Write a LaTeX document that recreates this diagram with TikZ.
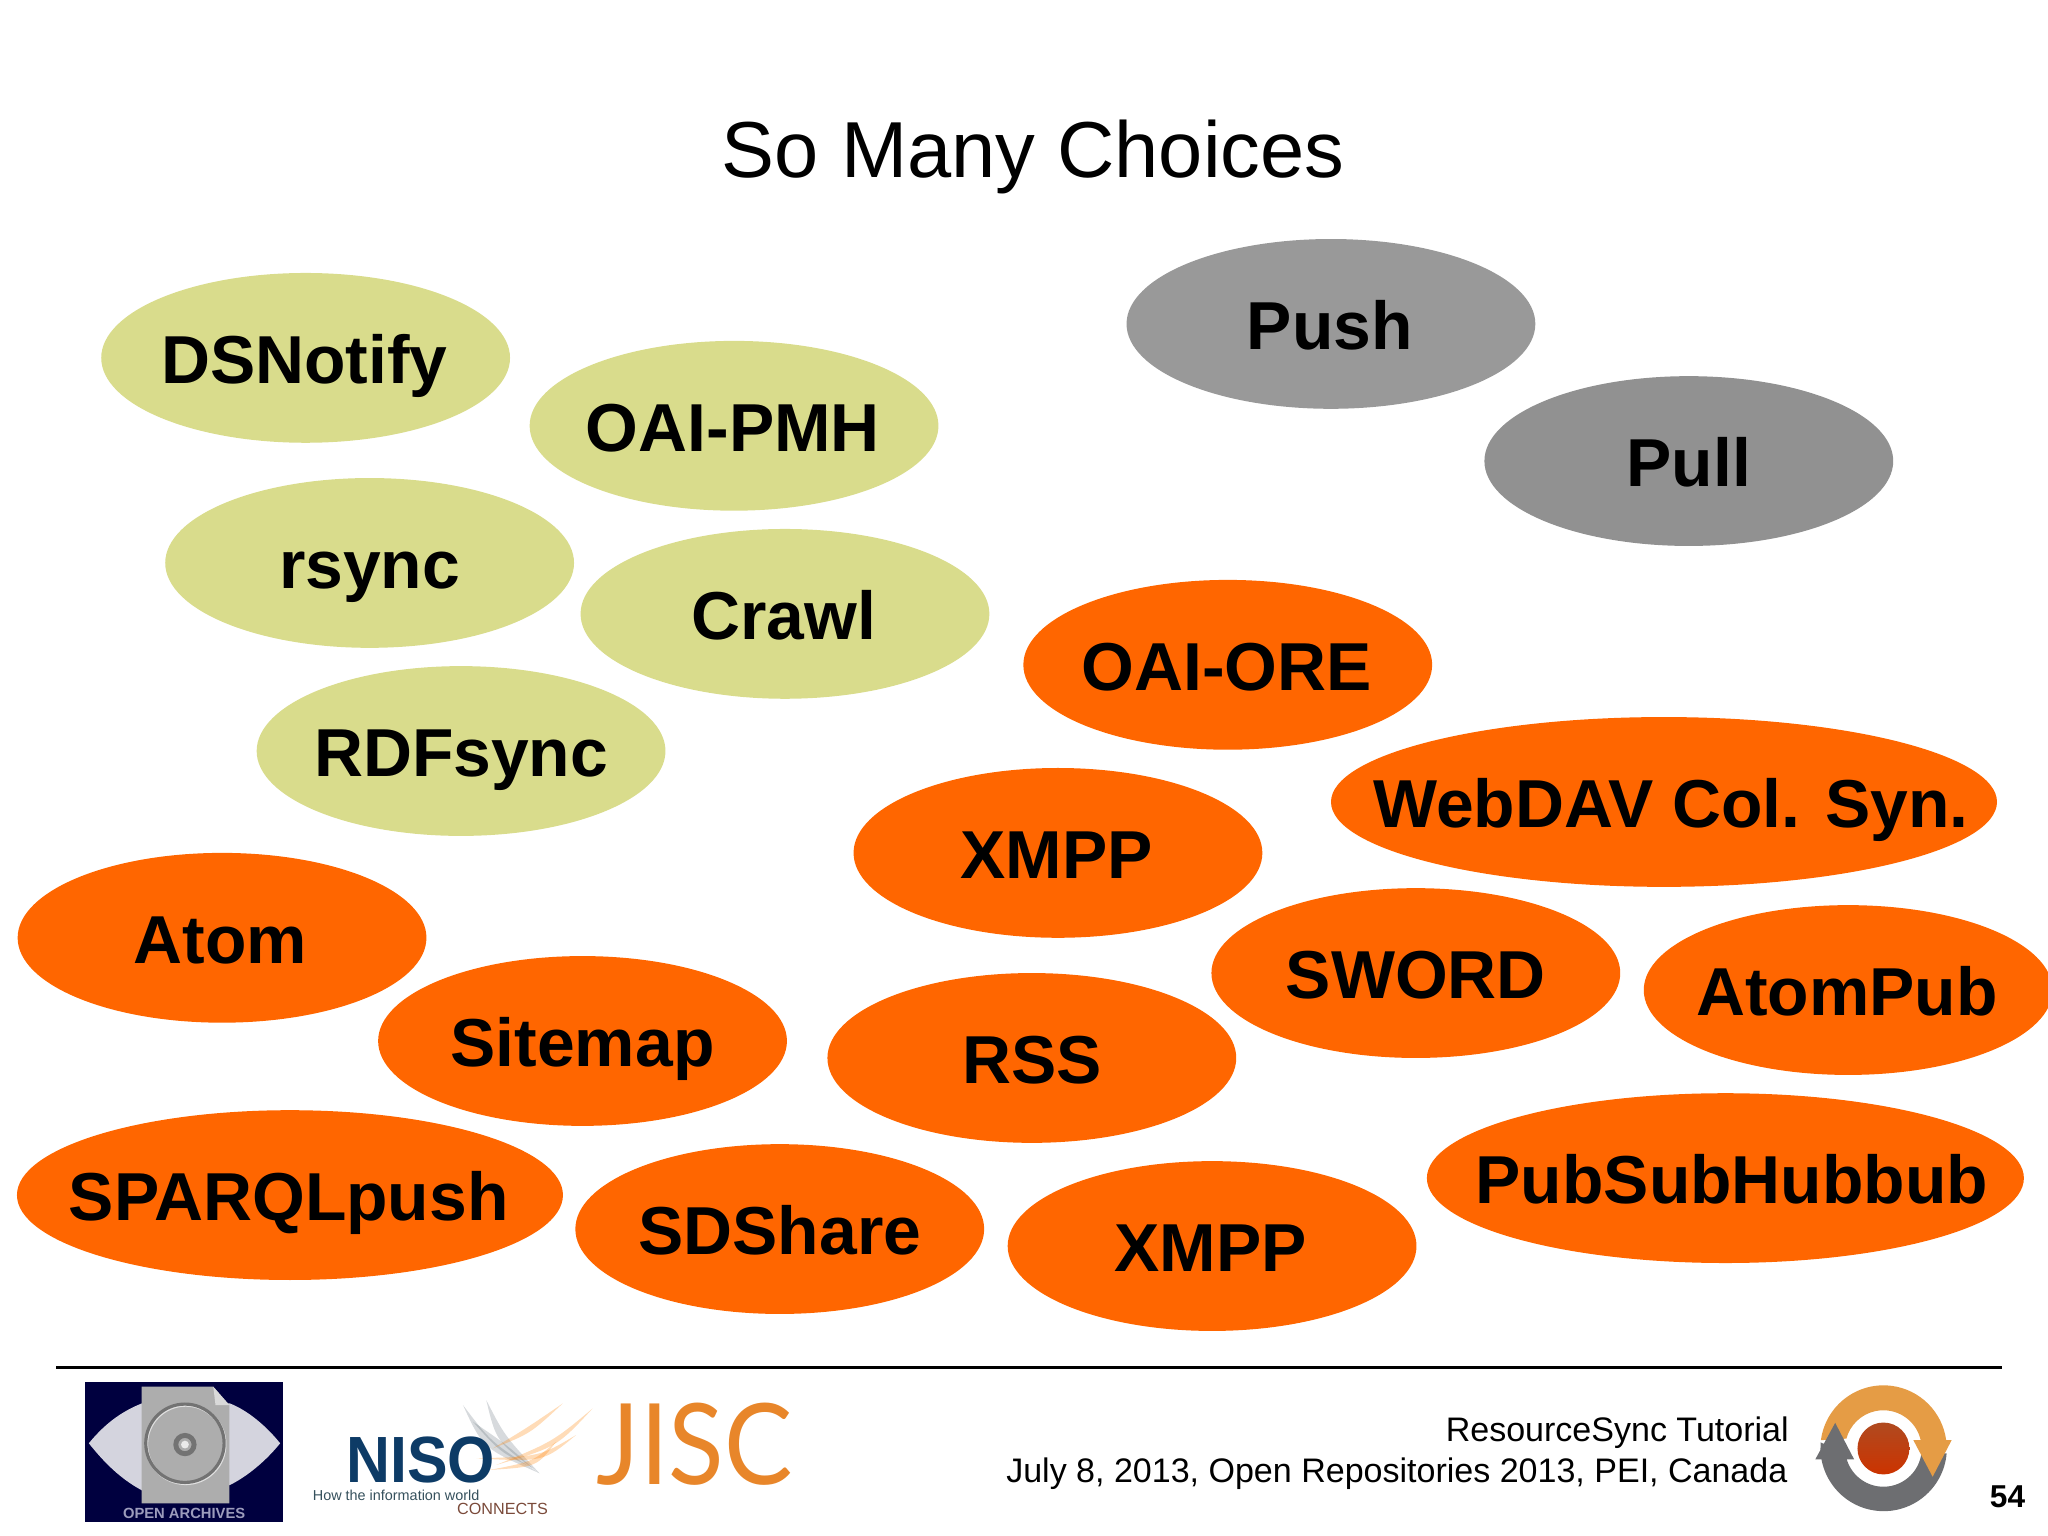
\documentclass[tikz,border=0pt]{standalone}
\usepackage{fontspec}
\setmainfont{Liberation Sans}
\newfontfamily\jiscfont{Lato}
\usetikzlibrary{shapes.geometric}
\definecolor{sync}{HTML}{D9DC8C}
\definecolor{proto}{HTML}{FF6600}
\definecolor{mode}{HTML}{999999}
\definecolor{navy}{HTML}{00003F}
\definecolor{nisoblue}{HTML}{0D3B66}
\definecolor{nisotext}{HTML}{35505C}
\definecolor{connects}{HTML}{7A4A3A}
\definecolor{jisc}{HTML}{E8862A}
\definecolor{ringorange}{HTML}{E59C45}
\definecolor{ringgray}{HTML}{6D6E71}
\definecolor{ringtop}{HTML}{B04A20}
\definecolor{ringbot}{HTML}{CC3300}
\definecolor{eyegray}{HTML}{D4D4DE}
\definecolor{docgray}{HTML}{ADADAD}
\definecolor{oatext}{HTML}{9C9CBC}
\newcommand{\lbl}[2][0pt]{\makebox[0pt]{\hspace*{#1}\raisebox{-7.3pt}[0pt][0pt]{#2}}}
\tikzset{
  choice/.style={ellipse,inner sep=0pt,outer sep=0pt,minimum width=4.088cm,minimum height=1.698cm,
    font=\fontsize{19.3}{22}\selectfont\bfseries},
  tool/.style={choice,fill=sync},
  proto/.style={choice,fill=proto},
  mode/.style={choice,fill=mode},
  foot/.style={font=\fontsize{9.68}{12}\selectfont,anchor=east,inner sep=0pt}
}
\begin{document}
\begin{tikzpicture}[x=0.0130612cm,y=-0.0130612cm]
\useasboundingbox (0,0) rectangle (1568,1176);
\node[font=\fontsize{22.6}{26}\selectfont] (title) at (791,120) {So Many Choices};
\path
(234,274)  node[tool] (dsnotify) {\lbl[-.7pt]{DSNotify}}
(562,326)  node[tool] (oaipmh)   {\lbl[-.7pt]{OAI-PMH}}
(283,431)  node[tool] (rsync)    {\lbl{rsync}}
(601,470)  node[tool] (crawl)    {\lbl[-.7pt]{Crawl}}
(353,575)  node[tool] (rdfsync)  {\lbl{RDFsync}}
(1019,248) node[mode] (push)     {\lbl[-.7pt]{Push}}
(1293,353) node[mode,fill=mode!95!black] (pull) {\lbl{Pull}}
(940,509)  node[proto] (oaiore)  {\lbl[-.7pt]{OAI-ORE}}
(810,653)  node[proto] (xmppa)   {\lbl[-.7pt]{XMPP}}
(1274,614) node[proto,minimum width=6.66cm] (webdav) {\lbl[4pt]{WebDAV Col. Syn.}}
(1084,745) node[proto] (sword)   {\lbl{SWORD}}
(1415,758) node[proto] (atompub) {\lbl[-.7pt]{AtomPub}}
(170,718)  node[proto] (atom)    {\lbl[-.8pt]{Atom}}
(446,797)  node[proto] (sitemap) {\lbl{Sitemap}}
(790,810)  node[proto] (rss)     {\lbl{RSS}}
(222,915)  node[proto,minimum width=5.46cm] (sparql) {\lbl[-.7pt]{SPARQLpush}}
(597,941)  node[proto] (sdshare) {\lbl{SDShare}}
(928,954)  node[proto] (xmppb)   {\lbl[-.8pt]{XMPP}}
(1321,902) node[proto,minimum width=5.97cm] (pubsub) {\lbl[3.7pt]{PubSubHubbub}};
% footer
\coordinate (ruleL) at (43,1047);
\coordinate (ruleR) at (1533,1047);
\draw[line width=.65pt] (ruleL)--(ruleR);
\node[foot] (tut)  at (1370,1097) {ResourceSync Tutorial};
\node[foot] (date) at (1369,1128) {July 8, 2013, Open Repositories 2013, PEI, Canada};
\node[font=\fontsize{9}{11}\selectfont\bfseries,inner sep=0pt] (page) at (1537,1146) {54};
% open archives logo
\fill[navy] (65,1058) rectangle (217,1165);
\fill[eyegray] (68,1105) .. controls (82,1088) and (95,1080) .. (108.5,1074.5) -- (176,1074.5)
  .. controls (190,1080) and (204,1092) .. (214.5,1105)
  .. controls (204,1118) and (190,1130) .. (176,1137) -- (108.5,1141)
  .. controls (92,1132) and (80,1120) .. (68,1105) -- cycle;
\fill[docgray] (108.5,1061.7)--(163.3,1061.7)--(175.6,1075.8)--(175.6,1151)--(108.5,1151)--cycle;
\fill[black!15] (163.3,1061.7)--(175.6,1075.8)--(165,1075.8)--cycle;
\draw[black!12,line width=.9pt] (142.2,1105.8) circle (30);
\draw[black!55,line width=.9pt] (141.6,1105) circle (30);
\draw[black!55,line width=1.4pt] (141.6,1106) circle (7);
\fill[black!8] (141.6,1106) circle (3);
\node[font=\fontsize{4.2}{5}\selectfont\bfseries,text=oatext,inner sep=0pt] (oa) at (141,1158.5) {OPEN ARCHIVES};
% niso logo
\begin{scope}[shift={(229.7,1060.5)},x=0.003333cm,y=-0.003333cm]
\foreach \ax/\ay/\cx/\cy/\bx/\by in {490/60/550/190/720/265,560/45/590/170/720/265,520/110/600/200/700/250}
  \fill[cyan!30!black,opacity=.22] (\ax,\ay) .. controls (\cx,\cy) .. (\bx,\by) .. controls (\cx+25,\cy-18) .. (\ax,\ay);
\foreach \ax/\ay/\cx/\cy/\bx/\by in {790/55/680/130/580/190,880/70/760/170/590/240,830/150/720/215/530/220,770/170/700/230/570/255}
  \fill[orange,opacity=.28] (\ax,\ay) .. controls (\cx,\cy) .. (\bx,\by) .. controls (\cx+12,\cy+16) .. (\ax,\ay);
\end{scope}
\node[font=\fontsize{18.6}{20}\selectfont\bfseries,text=nisoblue,xscale=.93,inner sep=0pt] (niso) at (322,1118) {NISO};
\node[font=\fontsize{4.1}{5}\selectfont,text=nisotext,anchor=west,inner sep=0pt] (world) at (239,1144.5) {How the information world};
\node[font=\fontsize{4.6}{5}\selectfont,text=connects,anchor=west,inner sep=0pt] (conn) at (349.5,1155.5) {CONNECTS};
% jisc logo
\node[font=\fontsize{32}{34}\selectfont\jiscfont,text=jisc,xscale=.91,inner sep=0pt] (jisc) at (532,1106) {JISC};
% resourcesync logo
\begin{scope}[shift={(1442,1109)},x=0.003332cm,y=0.003332cm]
\fill[ringgray] (190,-15) arc[start angle=-5,end angle=-185,radius=190]
  -- (-114,-15) arc[start angle=-172.5,end angle=-7.5,radius=115] -- cycle;
\fill[ringorange] (-188,25) arc[start angle=172.4,end angle=7.6,radius=190]
  -- (205,25) -- (148,-85) -- (90,25) -- (112,25) arc[start angle=12.6,end angle=165,radius=115] -- cycle;
\fill[ringgray] (-145,77) -- (-205,-33) -- (-88,-33) -- cycle;
\shade[top color=ringtop,bottom color=ringbot] (0,0) circle (78);
\end{scope}
\end{tikzpicture}
\end{document}
